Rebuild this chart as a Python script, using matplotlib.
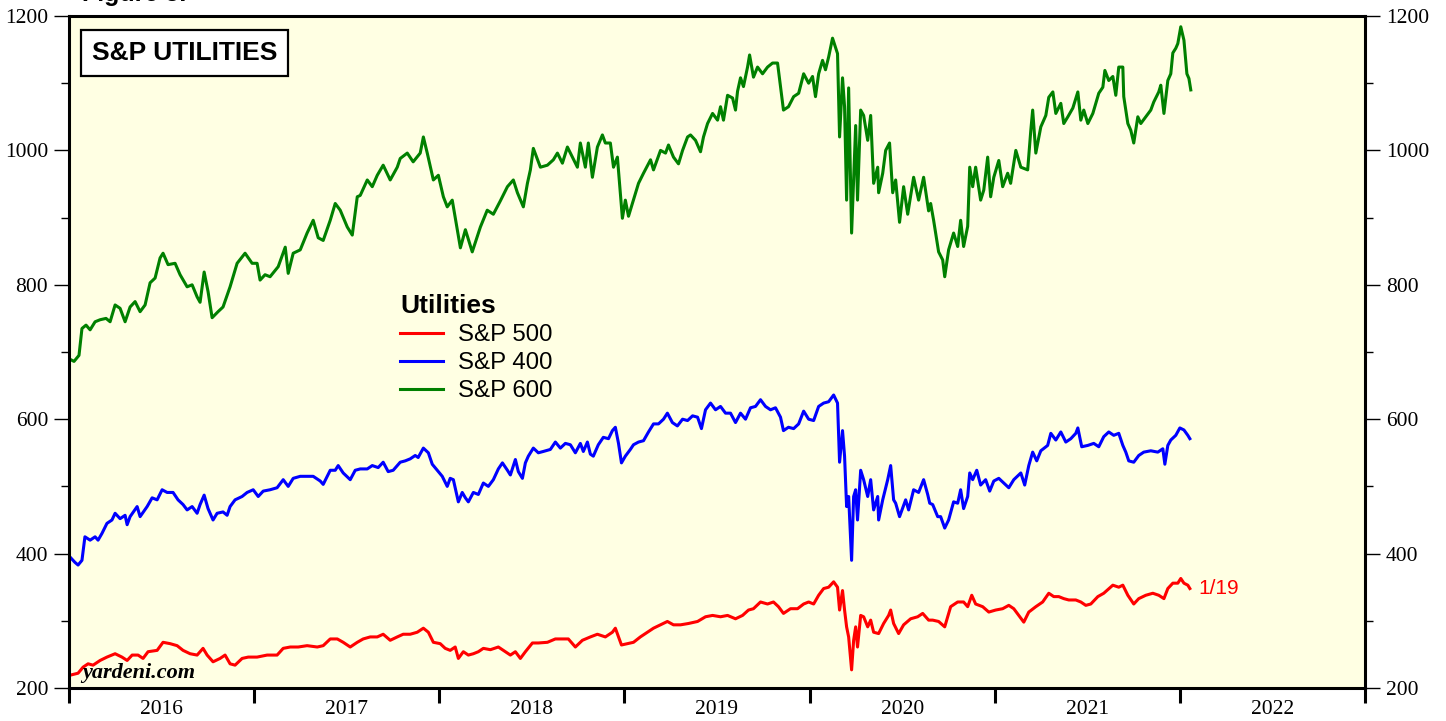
import matplotlib
matplotlib.use("Agg")
import matplotlib.pyplot as plt
from matplotlib.ticker import FixedLocator, NullFormatter, FixedFormatter

# decimal years and index levels
t600 = [0.000, 0.027, 0.054, 0.070, 0.092, 0.114, 0.141, 0.168, 0.200, 0.222, 0.249, 0.276,
        0.303, 0.330, 0.357, 0.384, 0.411, 0.438, 0.465, 0.492, 0.508, 0.535, 0.573, 0.600,
        0.638, 0.665, 0.692, 0.708, 0.730, 0.751, 0.773, 0.805, 0.832, 0.870, 0.908, 0.951,
        0.989, 1.016, 1.032, 1.059, 1.086, 1.130, 1.168, 1.184, 1.211, 1.249, 1.286, 1.319,
        1.346, 1.373, 1.411, 1.438, 1.465, 1.503, 1.530, 1.557, 1.573, 1.611, 1.638, 1.665,
        1.697, 1.735, 1.773, 1.789, 1.827, 1.859, 1.897, 1.914, 1.935, 1.968, 1.995, 2.022,
        2.043, 2.070, 2.097, 2.114, 2.141, 2.178, 2.222, 2.259, 2.292, 2.330, 2.368, 2.400,
        2.422, 2.454, 2.476, 2.492, 2.508, 2.546, 2.584, 2.616, 2.638, 2.665, 2.692, 2.719,
        2.746, 2.762, 2.789, 2.805, 2.827, 2.854, 2.881, 2.897, 2.924, 2.941, 2.962, 2.978,
        2.989, 3.005, 3.022, 3.043, 3.076, 3.103, 3.141, 3.157, 3.195, 3.222, 3.238, 3.265,
        3.292, 3.314, 3.341, 3.357, 3.384, 3.411, 3.427, 3.449, 3.476, 3.503, 3.519, 3.535,
        3.557, 3.584, 3.600, 3.611, 3.627, 3.643, 3.665, 3.676, 3.697, 3.719, 3.746, 3.773,
        3.800, 3.827, 3.843, 3.859, 3.886, 3.914, 3.941, 3.968, 3.995, 4.016, 4.032, 4.049,
        4.070, 4.086, 4.103, 4.124, 4.151, 4.162, 4.178, 4.189, 4.200, 4.211, 4.227, 4.249,
        4.259, 4.276, 4.292, 4.314, 4.330, 4.346, 4.368, 4.373, 4.395, 4.411, 4.432, 4.449,
        4.465, 4.486, 4.508, 4.530, 4.562, 4.589, 4.616, 4.643, 4.654, 4.670, 4.697, 4.719,
        4.730, 4.751, 4.778, 4.800, 4.816, 4.832, 4.854, 4.865, 4.881, 4.897, 4.924, 4.941,
        4.962, 4.978, 4.995, 5.022, 5.043, 5.070, 5.086, 5.114, 5.141, 5.178, 5.195, 5.205,
        5.222, 5.249, 5.276, 5.292, 5.314, 5.330, 5.357, 5.373, 5.395, 5.422, 5.449, 5.465,
        5.481, 5.503, 5.530, 5.546, 5.562, 5.584, 5.595, 5.616, 5.638, 5.654, 5.670, 5.692,
        5.697, 5.719, 5.735, 5.751, 5.773, 5.789, 5.816, 5.843, 5.859, 5.886, 5.897, 5.914,
        5.935, 5.951, 5.962, 5.978, 5.989, 6.005, 6.022, 6.038, 6.049, 6.059]
sp600 = [690, 686, 695, 735, 740, 733, 745, 748, 750, 745, 770, 765,
         745, 767, 775, 760, 770, 803, 810, 840, 847, 830, 832, 815,
         797, 800, 782, 774, 819, 790, 751, 760, 767, 797, 832, 847,
         832, 832, 807, 815, 812, 827, 856, 817, 847, 852, 877, 896,
         870, 866, 896, 921, 911, 886, 874, 931, 933, 956, 946, 963,
         978, 956, 975, 988, 996, 983, 996, 1020, 996, 956, 963, 931,
         916, 926, 882, 855, 882, 849, 886, 911, 905, 925, 946, 956,
         937, 916, 951, 971, 1003, 975, 978, 986, 996, 981, 1005, 990,
         975, 1011, 975, 1011, 960, 1005, 1023, 1011, 1011, 975, 990, 937,
         899, 926, 902, 921, 951, 966, 986, 971, 1000, 996, 1008, 990,
         980, 1000, 1020, 1023, 1015, 998, 1020, 1040, 1055, 1045, 1065, 1045,
         1082, 1078, 1060, 1088, 1108, 1095, 1124, 1142, 1109, 1124, 1114, 1124,
         1130, 1130, 1095, 1060, 1065, 1080, 1085, 1114, 1100, 1110, 1080, 1114,
         1134, 1120, 1139, 1167, 1144, 1020, 1108, 1065, 926, 1093, 877, 1037,
         926, 1060, 1052, 1015, 1052, 951, 975, 937, 966, 1000, 1011, 937,
         956, 893, 946, 905, 960, 926, 960, 910, 921, 896, 849, 837,
         812, 852, 877, 857, 896, 857, 887, 975, 946, 975, 926, 941,
         990, 931, 960, 985, 946, 966, 951, 1000, 975, 971, 1030, 1060,
         996, 1035, 1052, 1079, 1087, 1055, 1070, 1040, 1050, 1063, 1087, 1045,
         1060, 1040, 1055, 1070, 1085, 1094, 1119, 1104, 1110, 1082, 1124, 1124,
         1080, 1040, 1030, 1011, 1050, 1040, 1050, 1060, 1072, 1087, 1097, 1055,
         1104, 1114, 1145, 1152, 1159, 1184, 1164, 1114, 1107, 1090]

t400 = [0.005, 0.032, 0.049, 0.070, 0.086, 0.114, 0.141, 0.157, 0.178, 0.205, 0.232, 0.249,
        0.276, 0.303, 0.314, 0.330, 0.368, 0.384, 0.422, 0.449, 0.476, 0.503, 0.530, 0.562,
        0.589, 0.616, 0.638, 0.665, 0.692, 0.708, 0.730, 0.751, 0.778, 0.800, 0.832, 0.854,
        0.870, 0.897, 0.935, 0.962, 0.995, 1.022, 1.049, 1.086, 1.124, 1.157, 1.184, 1.211,
        1.249, 1.286, 1.319, 1.357, 1.373, 1.411, 1.438, 1.454, 1.481, 1.519, 1.546, 1.573,
        1.611, 1.638, 1.670, 1.697, 1.724, 1.751, 1.789, 1.816, 1.843, 1.870, 1.886, 1.914,
        1.941, 1.962, 1.989, 2.016, 2.043, 2.059, 2.076, 2.103, 2.124, 2.141, 2.157, 2.184,
        2.211, 2.238, 2.265, 2.292, 2.319, 2.341, 2.368, 2.384, 2.411, 2.427, 2.449, 2.465,
        2.481, 2.508, 2.535, 2.562, 2.600, 2.627, 2.654, 2.681, 2.708, 2.735, 2.762, 2.778,
        2.800, 2.816, 2.832, 2.859, 2.886, 2.914, 2.935, 2.951, 2.968, 2.984, 3.005, 3.032,
        3.049, 3.076, 3.103, 3.130, 3.157, 3.184, 3.211, 3.232, 3.259, 3.286, 3.314, 3.341,
        3.368, 3.395, 3.416, 3.438, 3.465, 3.492, 3.519, 3.546, 3.573, 3.600, 3.627, 3.654,
        3.681, 3.708, 3.735, 3.762, 3.789, 3.816, 3.843, 3.859, 3.886, 3.914, 3.941, 3.968,
        3.995, 4.022, 4.049, 4.076, 4.103, 4.130, 4.151, 4.162, 4.178, 4.189, 4.200, 4.211,
        4.227, 4.238, 4.249, 4.259, 4.276, 4.292, 4.314, 4.330, 4.346, 4.368, 4.373, 4.395,
        4.422, 4.438, 4.454, 4.465, 4.486, 4.519, 4.535, 4.562, 4.589, 4.616, 4.638, 4.649,
        4.665, 4.692, 4.708, 4.730, 4.751, 4.778, 4.800, 4.816, 4.832, 4.854, 4.865, 4.881,
        4.903, 4.924, 4.951, 4.973, 4.995, 5.022, 5.049, 5.076, 5.103, 5.141, 5.162, 5.184,
        5.205, 5.227, 5.249, 5.286, 5.303, 5.330, 5.357, 5.384, 5.411, 5.438, 5.449, 5.470,
        5.503, 5.535, 5.562, 5.589, 5.616, 5.643, 5.670, 5.692, 5.708, 5.724, 5.751, 5.778,
        5.805, 5.843, 5.881, 5.908, 5.919, 5.935, 5.951, 5.978, 6.000, 6.022, 6.043, 6.054]
sp400 = [395, 387, 383, 390, 425, 420, 425, 420, 430, 445, 450, 460,
         452, 457, 443, 455, 470, 455, 470, 483, 480, 495, 491, 491,
         480, 473, 465, 470, 460, 473, 487, 467, 450, 460, 462, 457,
         470, 480, 485, 491, 495, 485, 493, 495, 498, 510, 500, 512,
         515, 515, 515, 508, 503, 524, 524, 531, 520, 510, 524, 526,
         526, 531, 528, 536, 522, 524, 536, 538, 541, 546, 543, 557,
         550, 533, 524, 515, 500, 512, 510, 477, 491, 483, 477, 491,
         488, 505, 500, 510, 526, 535, 524, 517, 540, 522, 512, 535,
         545, 557, 550, 552, 555, 566, 557, 564, 562, 550, 564, 552,
         566, 548, 545, 562, 573, 571, 583, 588, 564, 535, 545, 555,
         562, 566, 568, 581, 593, 593, 600, 609, 595, 590, 600, 598,
         605, 603, 586, 614, 624, 614, 619, 609, 609, 595, 609, 600,
         617, 619, 629, 619, 614, 617, 603, 583, 588, 586, 593, 612,
         600, 598, 619, 624, 626, 636, 624, 536, 583, 545, 470, 485,
         390, 485, 495, 450, 524, 510, 485, 510, 465, 485, 450, 480,
         510, 531, 480, 475, 455, 480, 465, 495, 491, 510, 488, 475,
         473, 455, 455, 438, 450, 477, 475, 495, 467, 485, 520, 510,
         524, 502, 510, 493, 508, 512, 505, 498, 510, 520, 502, 531,
         551, 538, 553, 561, 579, 569, 581, 566, 571, 579, 587, 559,
         561, 564, 559, 574, 581, 576, 579, 561, 551, 538, 536, 546,
         551, 553, 551, 556, 533, 561, 569, 576, 587, 584, 576, 571]

t500 = [0.005, 0.049, 0.076, 0.103, 0.130, 0.168, 0.205, 0.249, 0.286, 0.314, 0.341, 0.373,
        0.400, 0.427, 0.476, 0.508, 0.546, 0.584, 0.616, 0.654, 0.692, 0.724, 0.746, 0.778,
        0.816, 0.843, 0.870, 0.897, 0.935, 0.968, 1.016, 1.070, 1.124, 1.157, 1.195, 1.238,
        1.286, 1.341, 1.373, 1.411, 1.449, 1.481, 1.519, 1.557, 1.589, 1.627, 1.665, 1.697,
        1.735, 1.773, 1.805, 1.843, 1.881, 1.914, 1.941, 1.968, 2.005, 2.032, 2.059, 2.086,
        2.103, 2.130, 2.157, 2.184, 2.211, 2.238, 2.276, 2.319, 2.357, 2.384, 2.411, 2.438,
        2.465, 2.503, 2.535, 2.584, 2.627, 2.665, 2.697, 2.735, 2.773, 2.816, 2.854, 2.897,
        2.935, 2.951, 2.968, 2.984, 3.016, 3.049, 3.086, 3.124, 3.157, 3.195, 3.232, 3.265,
        3.303, 3.346, 3.395, 3.438, 3.476, 3.519, 3.557, 3.600, 3.638, 3.670, 3.697, 3.735,
        3.773, 3.805, 3.832, 3.859, 3.897, 3.935, 3.968, 3.995, 4.022, 4.049, 4.076, 4.103,
        4.130, 4.151, 4.162, 4.178, 4.189, 4.200, 4.211, 4.227, 4.238, 4.249, 4.259, 4.276,
        4.292, 4.314, 4.330, 4.346, 4.373, 4.400, 4.427, 4.438, 4.454, 4.481, 4.508, 4.546,
        4.584, 4.611, 4.643, 4.665, 4.697, 4.730, 4.762, 4.800, 4.832, 4.854, 4.876, 4.897,
        4.935, 4.968, 5.005, 5.043, 5.076, 5.103, 5.130, 5.157, 5.184, 5.222, 5.259, 5.292,
        5.319, 5.346, 5.373, 5.400, 5.438, 5.465, 5.492, 5.519, 5.557, 5.589, 5.638, 5.670,
        5.692, 5.719, 5.751, 5.778, 5.816, 5.854, 5.886, 5.914, 5.935, 5.962, 5.989, 6.005,
        6.022, 6.043, 6.054]
sp500 = [219, 222, 231, 236, 234, 241, 246, 251, 246, 241, 249, 249,
         244, 254, 256, 268, 266, 263, 256, 251, 249, 259, 249, 239,
         244, 249, 236, 234, 244, 246, 246, 249, 249, 259, 261, 261,
         263, 261, 263, 273, 273, 268, 261, 268, 273, 276, 276, 280,
         271, 276, 280, 280, 283, 289, 283, 268, 266, 259, 256, 261,
         244, 254, 249, 251, 254, 259, 257, 261, 254, 249, 254, 244,
         254, 267, 267, 268, 273, 273, 273, 261, 271, 276, 280, 276,
         283, 289, 276, 264, 266, 268, 276, 283, 289, 294, 299, 294,
         294, 296, 299, 306, 308, 306, 308, 303, 308, 316, 318, 328,
         325, 328, 321, 311, 318, 318, 325, 328, 325, 338, 348, 350,
         358, 350, 316, 345, 316, 291, 276, 227, 271, 291, 261, 308,
         306, 291, 301, 283, 281, 296, 308, 316, 296, 281, 294, 303,
         306, 311, 301, 301, 299, 291, 321, 328, 328, 321, 338, 325,
         321, 313, 316, 318, 323, 318, 308, 298, 313, 321, 328, 341,
         336, 336, 333, 331, 331, 328, 323, 325, 336, 341, 353, 350,
         353, 338, 325, 333, 338, 341, 338, 333, 348, 356, 356, 363,
         356, 353, 348]

start_year = 2016
years = list(range(2016, 2024))
year_labels = [str(y) for y in range(2016, 2023)]
yticks = list(range(200, 1201, 200))

serif = ["Liberation Serif", "DejaVu Serif"]
sans = ["Liberation Sans", "DejaVu Sans"]

fig = plt.figure(figsize=(14.46, 7.21), dpi=100)
ax = fig.add_axes([69 / 1446, 1 - 688 / 721, 1296 / 1446, 672 / 721])
ax.set_facecolor("#FFFFE3")

lw = 2.2
ax.plot([start_year + t for t in t500], sp500, color="#FF0000", lw=lw, label="S&P 500")
ax.plot([start_year + t for t in t400], sp400, color="#0000FF", lw=lw, label="S&P 400")
ax.plot([start_year + t for t in t600], sp600, color="#008000", lw=lw, label="S&P 600")

ax.set_xlim(2016, 2023)
ax.set_ylim(200, 1200)

for s in ax.spines.values():
    s.set_linewidth(2.2)

ax.yaxis.set_major_locator(FixedLocator(yticks))
ax.yaxis.set_minor_locator(FixedLocator(list(range(300, 1200, 200))))
ax.tick_params(axis="y", which="both", direction="out", left=True, right=True,
               labelleft=True, labelright=True, width=1.0, pad=4)
ax.tick_params(axis="y", which="major", length=11)
ax.tick_params(axis="y", which="minor", length=6)
for lab in ax.get_yticklabels():
    lab.set_fontfamily(serif)
    lab.set_fontsize(15.5)

ax.xaxis.set_major_locator(FixedLocator(years))
ax.xaxis.set_major_formatter(NullFormatter())
ax.xaxis.set_minor_locator(FixedLocator([y + 0.5 for y in range(2016, 2023)]))
ax.xaxis.set_minor_formatter(FixedFormatter(year_labels))
ax.tick_params(axis="x", which="major", direction="out", length=11, width=2.2)
ax.tick_params(axis="x", which="minor", length=0, pad=9)
for lab in ax.get_xticklabels(minor=True):
    lab.set_fontfamily(serif)
    lab.set_fontsize(15.5)

ax.text(0.0177, 0.945, "S&P UTILITIES", transform=ax.transAxes, ha="left", va="center",
        fontsize=19, fontweight="bold", family=sans,
        bbox=dict(boxstyle="square,pad=0.42", facecolor="white", edgecolor="black", lw=1.6))

leg = ax.legend(loc="upper left", bbox_to_anchor=(0.2554, 0.586), frameon=False,
                title="Utilities", alignment="left", handlelength=1.8,
                handletextpad=0.62, labelspacing=0.25, borderaxespad=0, borderpad=0,
                prop={"family": sans, "size": 17.3},
                title_fontproperties={"family": sans, "size": 19, "weight": "bold"})

ax.text(0.010, 0.015, "yardeni.com", transform=ax.transAxes, ha="left", va="baseline",
        fontsize=16, fontweight="bold", fontstyle="italic", family=serif)

ax.annotate("1/19", xy=(start_year + t500[-1], sp500[-1]), xytext=(6, 0),
            textcoords="offset points", color="#FF0000", fontsize=15, family=sans,
            va="center", ha="left")

fig.text(82 / 1446, 1 - 1 / 721, "Figure 5.", ha="left", va="baseline", fontsize=18,
         fontweight="bold", family=sans)

fig.savefig("out.png", dpi=100, facecolor="white")
